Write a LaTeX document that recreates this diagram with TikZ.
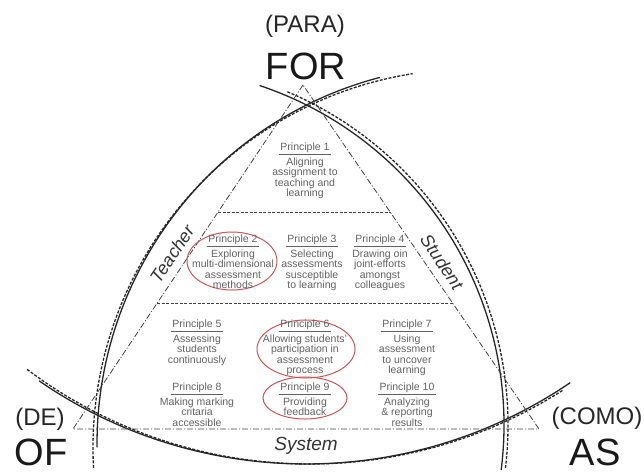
\documentclass[tikz,border=0pt]{standalone}
\usepackage{fontspec}
\setmainfont{Liberation Sans}
\definecolor{ellred}{RGB}{196,88,88}
\newcommand\prhead[1]{\underline{\,#1\,}}
\begin{document}
\begin{tikzpicture}[x=1pt,y=-1pt,
  solidarc/.style={line width=1.3pt,black!85},
  dasharc/.style={line width=1.3pt,black!85,dash pattern=on 3pt off 1.5pt},
  tri/.style={line width=0.8pt,black!75,dash pattern=on 6pt off 2pt on 1pt off 2pt},
  sepline/.style={line width=1pt,black!75,dash pattern=on 3pt off 1.5pt},
  prtext/.style={font=\fontsize{10.5}{10.5}\selectfont,text=black!62,align=center,inner sep=0pt,anchor=north},
  biglabel/.style={font=\fontsize{24}{24}\selectfont,text=black!85,inner sep=0pt},
  hugelabel/.style={font=\fontsize{38}{38}\selectfont,text=black!90,inner sep=0pt},
  sidelabel/.style={font=\fontsize{18}{18}\selectfont\itshape,text=black!80,inner sep=0pt},
  redell/.style={draw=ellred,line width=1pt}
]
\useasboundingbox (0,0) rectangle (644,474);

% Arcs (solid and dashed companions)
\draw[solidarc] (476,444) ++(179.5:379) arc[start angle=179.5,end angle=255.3,radius=379];
\draw[dasharc] (472,448) ++(177:379) arc[start angle=177,end angle=261,radius=379];
\draw[solidarc] (146,425) ++(-71.5:358) arc[start angle=-71.5,end angle=7.2,radius=358];
\draw[dasharc] (146,425) ++(-67:362) arc[start angle=-67,end angle=7,radius=362];
\draw[solidarc] (306,-6) ++(124.6:470) arc[start angle=124.6,end angle=55.8,radius=470];
\draw[dasharc] (310,-6) ++(127:470) arc[start angle=127,end angle=57.5,radius=470];

% Triangle and separators
\coordinate (A) at (303,85);
\coordinate (B) at (73,429);
\coordinate (C) at (539,429);
\draw[tri] (A) -- (B) -- (C) -- cycle;
\coordinate (s1l) at (218,212);
\coordinate (s1r) at (391,212);
\coordinate (s2l) at (157,303);
\coordinate (s2r) at (453,303);
\draw[sepline] (s1l) -- (s1r);
\draw[sepline] (s2l) -- (s2r);

% Red ellipses
\draw[redell] (232,261) ellipse[x radius=45,y radius=29];
\draw[redell] (306,349) ellipse[x radius=49,y radius=29];
\draw[redell] (305,398) ellipse[x radius=42,y radius=21];

% Principles
\node[prtext] (p1) at (305,143) {\prhead{Principle 1}\\[1.5pt]Aligning\\assignment to\\teaching and\\learning};
\node[prtext] (p2) at (233,235) {\prhead{Principle 2}\\[1.5pt]Exploring\\multi-dimensional\\assessment\\methods};
\node[prtext] (p3) at (312,235) {\prhead{Principle 3}\\[1.5pt]Selecting\\assessments\\susceptible\\to learning};
\node[prtext] (p4) at (380,235) {\prhead{Principle 4}\\[1.5pt]Drawing oin\\joint-efforts\\amongst\\colleagues};
\node[prtext] (p5) at (197,320) {\prhead{Principle 5}\\[1.5pt]Assessing\\students\\continuously};
\node[prtext] (p6) at (305,320) {\prhead{Principle 6}\\[1.5pt]Allowing students'\\participation in\\assessment\\process};
\node[prtext] (p7) at (407,320) {\prhead{Principle 7}\\[1.5pt]Using\\assessment\\to uncover\\learning};
\node[prtext] (p8) at (197,383) {\prhead{Principle 8}\\[1.5pt]Making marking\\critaria\\accessible};
\node[prtext] (p9) at (305,383) {\prhead{Principle 9}\\[1.5pt]Providing\\feedback};
\node[prtext] (p10) at (407,383) {\prhead{Principle 10}\\[1.5pt]Analyzing\\\& reporting\\results};

% Side labels
\node[sidelabel,rotate=56] (teacher) at (172,254) {Teacher};
\node[sidelabel,rotate=-56] (student) at (442,262) {Student};
\node[font=\fontsize{19}{19}\selectfont\itshape,text=black!80,inner sep=0pt] (system) at (306,446) {System};

% Corner labels
\node[biglabel] (para) at (305,26) {(PARA)};
\node[hugelabel] (for) at (306,66) {FOR};
\node[biglabel] (de) at (40,419) {(DE)};
\node[hugelabel] (of) at (41,452) {OF};
\node[biglabel] (como) at (597,418) {(COMO)};
\node[hugelabel] (as) at (595,452) {AS};
\end{tikzpicture}
\end{document}
